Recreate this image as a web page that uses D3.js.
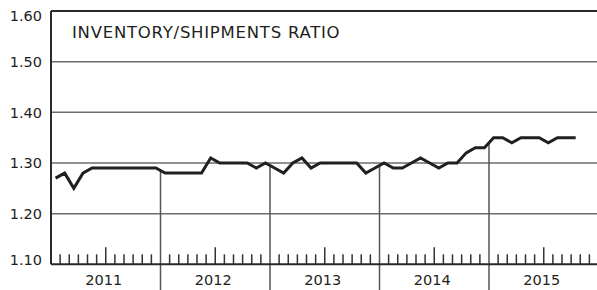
<!DOCTYPE html>
<html>
<head>
<meta charset="utf-8">
<script src="https://cdn.jsdelivr.net/npm/d3@7"></script>
<style>
  body { margin: 0; background: #fff; }
  text { font-family: "DejaVu Sans", sans-serif; fill: #231f20; }
</style>
</head>
<body>
<div id="chart"></div>
<script>
"use strict";

// Inventory / shipments ratio, monthly 2011 - Oct 2015

var years = ["2011", "2012", "2013", "2014", "2015"];
var yTicks = [1.10, 1.20, 1.30, 1.40, 1.50, 1.60];
var title = "INVENTORY/SHIPMENTS RATIO";

var ratio2011 = [1.27, 1.28, 1.25, 1.28, 1.29, 1.29, 1.29, 1.29, 1.29, 1.29, 1.29, 1.29];
var ratio2012 = [1.28, 1.28, 1.28, 1.28, 1.28, 1.31, 1.30, 1.30, 1.30, 1.30, 1.29, 1.30];
var ratio2013 = [1.29, 1.28, 1.30, 1.31, 1.29, 1.30, 1.30, 1.30, 1.30, 1.30, 1.28, 1.29];
var ratio2014 = [1.30, 1.29, 1.29, 1.30, 1.31, 1.30, 1.29, 1.30, 1.30, 1.32, 1.33, 1.33];
var ratio2015 = [1.35, 1.35, 1.34, 1.35, 1.35, 1.35, 1.34, 1.35, 1.35, 1.35];

var values = [].concat(ratio2011, ratio2012, ratio2013, ratio2014, ratio2015);

//
//   SET UP
//

var W = 597, H = 290;
var plotLeft = 51, plotRight = 598.5;
var plotTop = 11, plotBottom = 264.3;

var svg = d3.select("#chart").append("svg")
    .attr("width", W)
    .attr("height", H);

var scaleX = d3.scaleLinear().domain([0, years.length * 12]).range([plotLeft, plotRight]);
var scaleY = d3.scaleLinear().domain([1.10, 1.60]).range([plotBottom, plotTop]);

// Gridlines
yTicks.forEach(function (t) {
    if (t == 1.10) return;
    svg.append("line")
        .attr("x1", plotLeft).attr("x2", W)
        .attr("y1", scaleY(t)).attr("y2", scaleY(t))
        .style("stroke", t == 1.60 ? "#2a2a2a" : "#6d6d6d")
        .style("stroke-width", t == 1.60 ? 2 : 1.5);
});

// Y labels (top one nudged down, bottom one nudged up)
yTicks.forEach(function (t) {
    var dy = 0;
    if (t == 1.60) dy = 5;
    if (t == 1.10) dy = -5;
    svg.append("text")
        .text(t.toFixed(2))
        .attr("x", 42)
        .attr("y", scaleY(t) + dy)
        .attr("dy", "0.36em")
        .attr("text-anchor", "end")
        .style("font-size", "14.5px");
});

// Month ticks
d3.range(1, years.length * 12).forEach(function (k) {
    if (k % 12 == 0) return;
    var len = (k % 12 == 6) ? 17 : 10;
    svg.append("line")
        .attr("x1", scaleX(k)).attr("x2", scaleX(k))
        .attr("y1", plotBottom).attr("y2", plotBottom - len)
        .style("stroke", "#333")
        .style("stroke-width", 1.5);
});

// Year drop lines from the series down to the bottom
d3.range(1, years.length).forEach(function (j) {
    var k = j * 12;
    var v = (values[k - 1] + values[k]) / 2;
    svg.append("line")
        .attr("x1", scaleX(k)).attr("x2", scaleX(k))
        .attr("y1", scaleY(v)).attr("y2", H)
        .style("stroke", "#555")
        .style("stroke-width", 1.5);
});

// Axes
svg.append("line")
    .attr("x1", plotLeft).attr("x2", W)
    .attr("y1", plotBottom).attr("y2", plotBottom)
    .style("stroke", "#2a2a2a").style("stroke-width", 2);
svg.append("line")
    .attr("x1", plotLeft).attr("x2", plotLeft)
    .attr("y1", plotTop).attr("y2", plotBottom)
    .style("stroke", "#2a2a2a").style("stroke-width", 2);

// Year labels
years.forEach(function (y, j) {
    svg.append("text")
        .text(y)
        .attr("x", scaleX(j * 12 + 6) - 2)
        .attr("y", 285)
        .attr("text-anchor", "middle")
        .style("font-size", "14.5px");
});

// Title
svg.append("text")
    .text(title)
    .attr("x", 72)
    .attr("y", 38)
    .style("font-size", "16.5px")
    .style("letter-spacing", "0.75px");

// Series
var line = d3.line()
    .x(function (d, i) { return scaleX(i + 0.5); })
    .y(function (d) { return scaleY(d); });

svg.append("path")
    .datum(values)
    .attr("d", line)
    .style("fill", "none")
    .style("stroke", "#231f20")
    .style("stroke-width", 3)
    .style("stroke-linejoin", "miter");
</script>
</body>
</html>
